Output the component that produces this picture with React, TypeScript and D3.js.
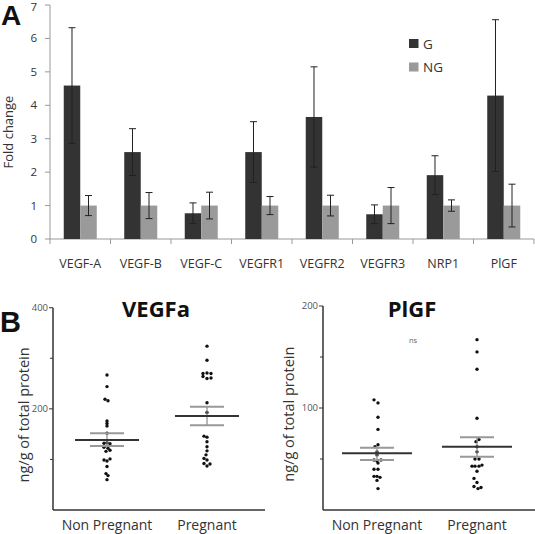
import React from "react";
import * as d3 from "d3";

const categories = ["VEGF-A", "VEGF-B", "VEGF-C", "VEGFR1", "VEGFR2", "VEGFR3", "NRP1", "PlGF"];
const seriesNames = ["G", "NG"];
const gValues = [4.59, 2.6, 0.77, 2.6, 3.65, 0.74, 1.91, 4.29];
const gErrors = [1.73, 0.7, 0.31, 0.91, 1.5, 0.28, 0.58, 2.27];
const ngValues = [1, 1, 1, 1, 1, 1, 1, 1];
const ngErrors = [0.3, 0.39, 0.4, 0.27, 0.31, 0.54, 0.17, 0.64];
const foldTicks = [0, 1, 2, 3, 4, 5, 6, 7];

const groups = ["Non Pregnant", "Pregnant"];

// [x jitter, value]
const vegfaNP: [number, number][] = [
  [0, 267], [0, 244], [-2, 219], [1, 216], [0, 176], [0, 171], [0, 166], [0, 152],
  [-3, 132], [0, 133], [3, 131], [-3, 124], [1, 122], [-1, 116], [3, 118],
  [-3, 99], [0, 97], [3, 101], [0, 86], [-1, 72], [1, 68], [0, 60],
];
const vegfaP: [number, number][] = [
  [0, 324], [0, 296], [-4, 270], [0, 271], [4, 270], [-4, 264], [0, 260], [4, 261],
  [0, 212], [0, 193], [-3, 146], [0, 144], [0, 135], [0, 125], [0, 117], [-1, 109],
  [-3, 102], [0, 99], [-3, 92], [3, 91], [0, 87],
];
const plgfNP: [number, number][] = [
  [-3, 108], [1, 105], [1, 91], [1, 79], [1, 64], [-2, 62], [0, 57], [0, 54],
  [-3, 49], [0, 48], [4, 49], [1, 46], [-3, 40], [1, 40], [-3, 33], [0, 33],
  [3, 32], [0, 29], [1, 21],
];
const plgfP: [number, number][] = [
  [0, 167], [0, 155], [0, 138], [0, 90], [2, 69], [-1, 67], [0, 62], [0, 57],
  [-2, 50], [2, 50], [-5, 43], [-2, 43], [2, 43], [5, 44], [0, 38], [-3, 31],
  [0, 27], [-3, 23], [1, 21], [4, 22],
];
// [mean, sem upper, sem lower]
const vegfaStats: [number, number, number][] = [[138.4, 151.6, 126.5], [185.8, 204, 167.4]];
const plgfStats: [number, number, number][] = [[55.6, 61, 49], [62, 71.3, 52.3]];

const FONT = "'Open Sans', 'Liberation Sans', sans-serif";

function TopChart() {
  const y = d3.scaleLinear().domain([0, 7]).range([239, 5]);
  const xCat = d3.scaleBand<string>().domain(categories).range([50, 534]).padding(0);
  const xSer = d3.scaleBand<string>().domain(seriesNames).range([0, xCat.bandwidth()]).paddingInner(0).paddingOuter(0.833);
  const colors: Record<string, string> = { G: "#333333", NG: "#9a9a9a" };
  const bounds = [...categories.map((c) => xCat(c)!), 534];
  return (
    <g>
      <text x={1} y={25} fontFamily="Arial, 'Liberation Sans', sans-serif" fontWeight="bold" fontSize={28} fill="#111">A</text>
      {/* y axis */}
      <line x1={50} x2={50} y1={y(7)} y2={y(0)} stroke="#999" strokeWidth={1} />
      {foldTicks.map((t) => (
        <g key={t}>
          <line x1={45} x2={50} y1={y(t)} y2={y(t)} stroke="#999" />
          <text x={37} y={t === 7 ? y(t) + 2 : y(t)} dy="0.35em" textAnchor="end" fontFamily={FONT} fontSize={11.5} fill="#333">{t}</text>
        </g>
      ))}
      <text transform={`translate(13,${y(3.2)}) rotate(-90)`} textAnchor="middle" fontFamily={FONT} fontSize={13} fill="#333">Fold change</text>
      {/* x axis */}
      <line x1={50} x2={534} y1={y(0)} y2={y(0)} stroke="#999" />
      {bounds.map((b, i) => (
        <line key={i} x1={b} x2={b} y1={y(0)} y2={y(0) + 5} stroke="#999" />
      ))}
      {categories.map((c) => (
        <text key={c} x={xCat(c)! + xCat.bandwidth() / 2} y={268} textAnchor="middle" fontFamily={FONT} fontSize={12.5} fill="#333">{c}</text>
      ))}
      {categories.map((c, i) => {
        const vals = [gValues[i], ngValues[i]];
        const errs = [gErrors[i], ngErrors[i]];
        return seriesNames.map((s, j) => {
          const x0 = xCat(c)! + xSer(s)!;
          const w = xSer.bandwidth();
          const cx = x0 + w / 2;
          return (
            <g key={c + s}>
              <rect x={x0} y={y(vals[j])} width={w} height={y(0) - y(vals[j])} fill={colors[s]} />
              <line x1={cx} x2={cx} y1={y(vals[j] + errs[j])} y2={y(vals[j] - errs[j])} stroke="#222" strokeWidth={1} />
              <line x1={cx - 3.5} x2={cx + 3.5} y1={y(vals[j] + errs[j])} y2={y(vals[j] + errs[j])} stroke="#222" strokeWidth={1} />
              <line x1={cx - 3.5} x2={cx + 3.5} y1={y(vals[j] - errs[j])} y2={y(vals[j] - errs[j])} stroke="#222" strokeWidth={1} />
            </g>
          );
        });
      })}
      {/* legend */}
      {seriesNames.map((s, i) => (
        <g key={s}>
          <rect x={409} y={39 + i * 23.5} width={9.5} height={9} fill={colors[s]} />
          <text x={423} y={48.5 + i * 23.5} fontFamily={FONT} fontSize={13.5} fill="#333">{s}</text>
        </g>
      ))}
    </g>
  );
}

function Panel(props: {
  x0: number; x1: number; top: number; max: number; labelTicks: number[]; minorTicks: number[];
  title: string; titleX: number; labelX: number; data: [number, number][][]; stats: [number, number, number][];
  meanHalf: number; ns?: boolean;
}) {
  const { x0, x1, top, max, labelTicks, minorTicks, title, titleX, labelX, data, stats, meanHalf, ns } = props;
  const bottom = 510;
  const y = d3.scaleLinear().domain([0, max]).range([bottom, top]);
  const x = d3.scalePoint<string>().domain(groups).range([x0 + 54, x0 + 154]);
  return (
    <g>
      <line x1={x0} x2={x0} y1={y(max)} y2={bottom} stroke="#333" strokeWidth={1.5} />
      <line x1={x0} x2={x1} y1={bottom} y2={bottom} stroke="#333" strokeWidth={1.5} />
      {labelTicks.map((t) => (
        <g key={"l" + t}>
          <line x1={x0 - 4} x2={x0} y1={y(t)} y2={y(t)} stroke="#333" />
          <text x={x0 - 5} y={y(t)} dy="0.35em" textAnchor="end" fontFamily={FONT} fontSize={9.5} fill="#555">{t}</text>
        </g>
      ))}
      {minorTicks.map((t) => (
        <line key={"m" + t} x1={x0 - 3} x2={x0} y1={y(t)} y2={y(t)} stroke="#333" />
      ))}
      <text x={titleX} y={317} textAnchor="middle" fontFamily={FONT} fontWeight="bold" fontSize={22} fill="#111">{title}</text>
      <text transform={`translate(${labelX},${y(max * 0.47)}) rotate(-90)`} textAnchor="middle" fontFamily={FONT} fontSize={14.5} fill="#333">ng/g of total protein</text>
      {ns && <text x={413} y={343} textAnchor="middle" fontFamily={FONT} fontSize={7.5} fill="#666">ns</text>}
      {groups.map((g, i) => {
        const cx = x(g)!;
        const [m, hi, lo] = stats[i];
        return (
          <g key={g}>
            <text x={cx} y={529.5} textAnchor="middle" fontFamily={FONT} fontSize={14} fill="#333">{g}</text>
            {data[i].map(([dx, v], k) => (
              <circle key={k} cx={cx + dx} cy={y(v)} r={1.7} fill="#111" />
            ))}
            <line x1={cx} x2={cx} y1={y(hi)} y2={y(lo)} stroke="#888" strokeWidth={1.2} />
            <line x1={cx - 17} x2={cx + 17} y1={y(hi)} y2={y(hi)} stroke="#999" strokeWidth={2} />
            <line x1={cx - 17} x2={cx + 17} y1={y(lo)} y2={y(lo)} stroke="#999" strokeWidth={2} />
            <line x1={cx - meanHalf} x2={cx + meanHalf} y1={y(m)} y2={y(m)} stroke="#333" strokeWidth={2} />
          </g>
        );
      })}
    </g>
  );
}

export default function App() {
  return (
    <svg width={535} height={534} style={{ position: "absolute", left: 0, top: 0, background: "#fff" }}>
      <rect width={535} height={534} fill="#fff" />
      <TopChart />
      <text x={0} y={332} fontFamily="Arial, 'Liberation Sans', sans-serif" fontWeight="bold" fontSize={29} fill="#111">B</text>
      <Panel x0={53} x1={265} top={307.7} max={400} labelTicks={[200, 400]} minorTicks={[100, 300]}
        title="VEGFa" titleX={156} labelX={29} data={[vegfaNP, vegfaP]} stats={vegfaStats} meanHalf={32} />
      <Panel x0={323} x1={535} top={306} max={200} labelTicks={[100, 200]} minorTicks={[50, 150]}
        title="PlGF" titleX={412} labelX={294} data={[plgfNP, plgfP]} stats={plgfStats} meanHalf={35} ns />
    </svg>
  );
}
